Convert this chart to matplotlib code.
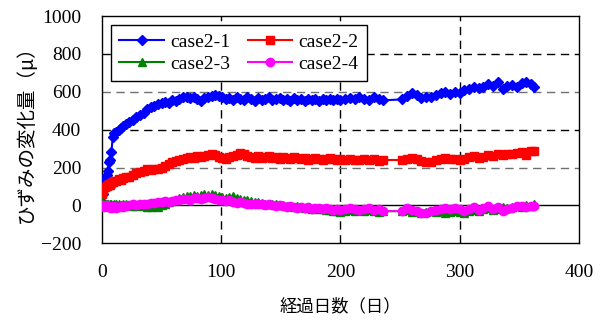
import matplotlib
matplotlib.use("Agg")
import matplotlib.pyplot as plt

# elapsed days (shared by all four series)
days = [0, 1, 2, 3, 4, 5, 6, 7, 8, 9, 10, 12, 14, 16, 18, 20,
        23, 26, 29, 32, 35, 38, 41, 44, 47, 50, 53, 56, 59, 62, 65, 68, 71, 74, 77, 80,
        83, 86, 89, 92, 95, 98, 101, 104, 107, 110, 113, 116, 119, 122, 125, 128, 131, 134, 137, 140,
        143, 146, 149, 152, 155, 158, 161, 164, 167, 170, 173, 176, 179, 182, 185, 188, 191, 194, 197, 200,
        204, 208, 212, 216, 220, 224, 228, 232, 236,
        252, 256, 260, 264, 268, 272, 276, 280, 284, 288, 292, 296, 300, 304, 308, 312, 316, 320,
        324, 328, 332, 336, 340, 344, 348, 352, 356, 360, 362]

case2_1 = [20, 60, 100, 140, 160, 180, 230, 240, 280, 360, 380, 390, 400, 410, 420, 430,
           440, 450, 465, 480, 490, 510, 520, 525, 535, 540, 545, 540, 555, 550, 560, 570, 575, 565, 575, 560,
           550, 565, 570, 580, 585, 580, 570, 560, 565, 555, 570, 560, 555, 570, 560, 550, 565, 555, 560, 570,
           555, 560, 565, 555, 560, 550, 565, 555, 560, 550, 560, 555, 560, 550, 560, 555, 560, 555, 560, 555,
           560, 565, 560, 570, 560, 555, 570, 560, 555,
           560, 580, 595, 585, 565, 575, 570, 585, 595, 600, 590, 600, 595, 610, 615, 625, 620, 625,
           640, 630, 650, 615, 630, 635, 625, 645, 650, 640, 628]

case2_2 = [60, 80, 95, 100, 105, 110, 115, 110, 120, 125, 130, 130, 140, 135, 145, 150,
           150, 160, 170, 175, 180, 190, 185, 190, 195, 200, 210, 220, 230, 235, 240, 245, 250, 255, 250, 260,
           255, 260, 265, 270, 265, 255, 250, 245, 255, 260, 265, 275, 270, 260, 255, 250, 260, 250, 255, 260,
           250, 255, 245, 255, 250, 245, 255, 250, 245, 250, 240, 245, 250, 245, 240, 245, 250, 245, 240, 245,
           240, 245, 240, 240, 245, 240, 245, 235, 240,
           240, 245, 250, 245, 235, 230, 230, 240, 245, 250, 245, 245, 240, 245, 255, 260, 250, 255,
           265, 260, 270, 265, 270, 270, 275, 280, 265, 285, 285]

case2_3 = [20, 15, 10, 5, 10, 5, 0, 5, 10, 0, 5, 10, 5, 0, 10, 5,
           0, -5, -5, 0, -5, -10, -10, -5, -10, 0, 10, 20, 25, 30, 40, 45, 50, 50, 55, 50,
           55, 60, 55, 60, 55, 50, 45, 40, 45, 50, 40, 35, 30, 30, 25, 20, 20, 15, 10, 10,
           5, 5, 0, 0, -5, -5, -10, -5, -10, -15, -15, -20, -15, -20, -20, -25, -25, -30, -30, -35,
           -30, -25, -30, -25, -30, -25, -30, -35, -30,
           -30, -25, -35, -30, -40, -35, -30, -35, -30, -40, -35, -30, -35, -40, -30, -25, -30, -20,
           -15, -25, -20, -10, -15, -10, -5, -10, 0, -5, 5]

case2_4 = [0, -5, -10, -5, 0, -10, -5, -10, -15, -10, -5, -15, -10, -5, -10, -5,
           0, 5, 0, 5, 10, 10, 15, 15, 20, 20, 25, 20, 25, 30, 30, 35, 35, 30, 40, 40,
           35, 40, 45, 40, 35, 30, 30, 25, 30, 20, 15, 20, 15, 10, 10, 5, 10, 5, 0, 5,
           0, -5, 0, -5, -10, -5, -10, -15, -10, -15, -10, -20, -15, -15, -20, -15, -20, -25, -20, -25,
           -20, -15, -20, -25, -20, -15, -25, -20, -30,
           -30, -15, -25, -30, -40, -40, -30, -25, -20, -15, -20, -15, -20, -30, -20, -10, -25, -15,
           -5, -20, -10, -30, -20, -15, -5, -5, -10, -5, -5]

xticks = [0, 100, 200, 300, 400]
yticks = [-200, 0, 200, 400, 600, 800, 1000]

serif = ['Liberation Serif', 'DejaVu Serif']
jp = ['Noto Sans CJK JP', 'DejaVu Sans']

fig = plt.figure(figsize=(6.03, 3.21), dpi=100)
ax = fig.add_axes([0.169, 0.242, 0.791, 0.708])

# grid lines drawn by hand so each can have its own tone
for x in [100, 200, 300]:
    ax.axvline(x, color='black', lw=1, ls=(0, (6, 4)), zorder=1)
for y, c in [(200, '#707070'), (400, 'black'), (600, '#707070'), (800, 'black')]:
    ax.axhline(y, color=c, lw=1, ls=(0, (6, 4)), zorder=1)
ax.axhline(0, color='black', lw=1, zorder=1)

l1, = ax.plot(days, case2_1, color='blue', marker='D', ms=5.5, lw=1.5, label='case2-1', zorder=3)
l2, = ax.plot(days, case2_2, color='red', marker='s', ms=5.5, lw=1.5, label='case2-2', zorder=3)
l3, = ax.plot(days, case2_3, color='green', marker='^', ms=6, lw=1.5, label='case2-3', zorder=3)
l4, = ax.plot(days, case2_4, color='magenta', marker='o', ms=6, lw=1.5, label='case2-4', zorder=3)

ax.set_xlim(0, 400)
ax.set_ylim(-200, 1000)
ax.set_xticks(xticks)
ax.set_yticks(yticks)
ax.tick_params(length=0, pad=15, labelsize=14)
for lab in ax.get_xticklabels() + ax.get_yticklabels():
    lab.set_family(serif)
for s in ax.spines.values():
    s.set_linewidth(1)

ax.set_xlabel('経過日数（日）', family=jp, fontsize=12.5, labelpad=12)
ax.set_ylabel('ひずみの変化量（μ）', family=jp, fontsize=14, labelpad=3)

# column-wise fill -> order handles so rows read 2-1/2-2, 2-3/2-4
leg = ax.legend([l1, l3, l2, l4], ['case2-1', 'case2-3', 'case2-2', 'case2-4'],
                loc='upper left', ncol=2, prop={'family': serif, 'size': 14},
                frameon=True, fancybox=False, edgecolor='black', framealpha=1,
                handlelength=2.3, handletextpad=0.3, columnspacing=0.9,
                labelspacing=0.2, borderpad=0.45, borderaxespad=0.45)
leg.get_frame().set_linewidth(1)
leg.set_zorder(5)

fig.savefig('out.png', dpi=100)
